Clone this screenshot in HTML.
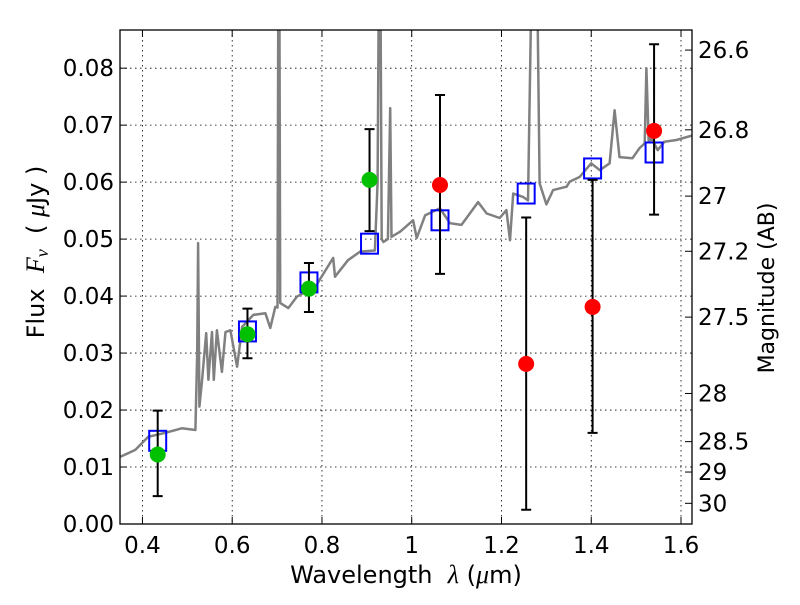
<!DOCTYPE html>
<html><head><meta charset="utf-8"><style>
body{margin:0;background:#fff}
svg text{font-family:"DejaVu Sans","Liberation Sans",sans-serif;fill:#000}
.m{font-family:"Liberation Serif",serif;font-style:italic}
</style></head><body>
<svg id="chart" width="800" height="600" xmlns="http://www.w3.org/2000/svg">
<defs><clipPath id="clip"><rect x="120" y="30" width="572" height="494"/></clipPath></defs>
<g id="grid"></g>
<g id="plot" clip-path="url(#clip)"></g>
<rect x="120" y="30" width="572" height="494" fill="none" stroke="#000" stroke-width="1.3"/>
<g id="axes"></g>
<text x="406" y="583" font-size="24" text-anchor="middle" xml:space="preserve">Wavelength  <tspan class="m" font-size="26">λ</tspan> (<tspan class="m" font-size="26">μ</tspan>m)</text>
<text transform="translate(44,252) rotate(-90)" font-size="24" text-anchor="middle" xml:space="preserve">Flux  <tspan class="m" font-size="26">F</tspan><tspan class="m" font-size="18" dy="4">ν</tspan><tspan dy="-4">  ( </tspan><tspan class="m" font-size="26">μ</tspan>Jy )</text>
<text transform="translate(774,288) rotate(-90)" font-size="22" text-anchor="middle">Magnitude (AB)</text>
</svg>
<script>
const xTicks=[0.4,0.6,0.8,1.0,1.2,1.4,1.6];
const xTickLabels=["0.4","0.6","0.8","1","1.2","1.4","1.6"];
const yTicks=[0,0.01,0.02,0.03,0.04,0.05,0.06,0.07,0.08];
const yTickLabels=["0.00","0.01","0.02","0.03","0.04","0.05","0.06","0.07","0.08"];
const magTicks=[26.6,26.8,27,27.2,27.5,28,28.5,29,30];
const magTickLabels=["26.6","26.8","27","27.2","27.5","28","28.5","29","30"];
const specWave=[0.351,0.384,0.413,0.451,0.488,0.518,0.522,0.524,0.527,0.533,0.542,0.547,0.555,0.559,0.566,0.577,0.585,0.596,0.611,0.622,0.647,0.674,0.685,0.696,0.701,0.703,0.705,0.707,0.725,0.744,0.785,0.825,0.829,0.858,0.885,0.918,0.924,0.927,0.93,0.933,0.937,0.947,0.952,0.955,0.974,1.003,1.011,1.03,1.063,1.085,1.111,1.148,1.167,1.196,1.211,1.219,1.226,1.248,1.259,1.268,1.271,1.276,1.279,1.285,1.300,1.315,1.345,1.352,1.374,1.400,1.419,1.441,1.452,1.463,1.492,1.508,1.519,1.523,1.528,1.534,1.548,1.563,1.590,1.626];
const specFlux=[0.0118,0.0130,0.0153,0.0160,0.0168,0.0165,0.0300,0.0493,0.0206,0.0253,0.0335,0.0253,0.0337,0.0253,0.0340,0.0267,0.0337,0.0340,0.0276,0.0346,0.0367,0.0370,0.0344,0.0381,0.0380,0.1,0.1,0.0388,0.0379,0.0399,0.0416,0.0467,0.0434,0.0463,0.0478,0.0480,0.0600,0.1,0.1,0.0500,0.0495,0.0500,0.0730,0.0504,0.0513,0.0533,0.0502,0.0542,0.0554,0.0528,0.0525,0.0565,0.0545,0.0537,0.0551,0.0498,0.0580,0.0574,0.0568,0.1,0.1,0.1,0.1,0.0598,0.0561,0.0586,0.0592,0.0601,0.0609,0.0633,0.0621,0.0633,0.0726,0.0644,0.0642,0.0660,0.0668,0.0800,0.0670,0.0677,0.0656,0.0671,0.0674,0.0682];
const modelWave=[0.434,0.634,0.771,0.906,1.063,1.255,1.403,1.540];
const modelFlux=[0.0146,0.0338,0.0424,0.0492,0.0533,0.0580,0.0624,0.0652];
const greenWave=[0.434,0.634,0.771,0.906];
const greenFlux=[0.0122,0.0333,0.0413,0.0604];
const greenLo=[0.0049,0.0291,0.0372,0.0514];
const greenHi=[0.0199,0.0378,0.0458,0.0693];
const redWave=[1.063,1.255,1.403,1.540];
const redFlux=[0.0595,0.0281,0.0381,0.0690];
const redLo=[0.0439,0.0025,0.0160,0.0543];
const redHi=[0.0753,0.0538,0.0604,0.0842];

const X0=120,X1=692,Y0=524,Y1=30,xmin=0.35,xmax=1.6245,ymin=0,ymax=0.0867;
const sx=v=>X0+(v-xmin)/(xmax-xmin)*(X1-X0);
const sy=v=>Y0-(v-ymin)/(ymax-ymin)*(Y0-Y1);
const magToFlux=m=>Math.pow(10,(23.9-m)/2.5);
const NS="http://www.w3.org/2000/svg";
function mk(tag,attrs,parent){const e=document.createElementNS(NS,tag);for(const k in attrs)e.setAttribute(k,attrs[k]);parent.appendChild(e);return e;}
const grid=document.getElementById('grid'),plot=document.getElementById('plot'),axes=document.getElementById('axes');

xTicks.forEach((t,i)=>{const x=sx(t);
 const g=mk('line',{x1:x,x2:x,y1:Y1,y2:Y0,stroke:'#000','stroke-width':0.8,'stroke-dasharray':'1.5,3.5'},grid);
 
 
 const a=mk('line',{x1:x,x2:x,y1:Y0,y2:Y0-7,stroke:'#000','stroke-width':1},axes);
 
 
 const b=mk('line',{x1:x,x2:x,y1:Y1,y2:Y1+7,stroke:'#000','stroke-width':1},axes);
 
 
 const l=mk('text',{x:x,y:553,'font-size':23,'text-anchor':'middle'},axes);l.textContent=xTickLabels[i];
 
 
});
yTicks.forEach((t,i)=>{const y=sy(t);
 const g=mk('line',{x1:X0,x2:X1,y1:y,y2:y,stroke:'#000','stroke-width':0.8,'stroke-dasharray':'1.5,3.5'},grid);
 
 
 const a=mk('line',{x1:X0,x2:X0+7,y1:y,y2:y,stroke:'#000','stroke-width':1},axes);
 
 
 const l=mk('text',{x:114,y:y+8,'font-size':23,'text-anchor':'end'},axes);l.textContent=yTickLabels[i];
 
 
});
magTicks.forEach((m,i)=>{const y=sy(magToFlux(m));
 const a=mk('line',{x1:X1,x2:X1-7,y1:y,y2:y,stroke:'#000','stroke-width':1},axes);
 
 
 const l=mk('text',{x:698,y:y+8,'font-size':23},axes);l.textContent=magTickLabels[i];
 
 
});
const pts=specWave.map((w,i)=>sx(w).toFixed(1)+','+sy(specFlux[i]).toFixed(1)).join(' ');
const sp=mk('polyline',{points:pts,fill:'none',stroke:'#808080','stroke-width':2.5,'stroke-linejoin':'round'},plot);


modelWave.forEach((w,i)=>{const x=sx(w),y=sy(modelFlux[i]);
 const r=mk('rect',{x:x-8.5,y:y-10,width:17,height:20,fill:'none',stroke:'#0000ff','stroke-width':2},plot);
 
 
});
function errs(W,F,L,H,color,name){W.forEach((w,i)=>{const x=sx(w);
 const e=mk('path',{d:`M${x},${sy(L[i])}V${sy(H[i])}M${x-5},${sy(L[i])}H${x+5}M${x-5},${sy(H[i])}H${x+5}`,stroke:'#000','stroke-width':2,fill:'none'},plot);
 
 
});W.forEach((w,i)=>{
 const c=mk('circle',{cx:sx(w),cy:sy(F[i]),r:8,fill:color},plot);
 
 
});}
errs(greenWave,greenFlux,greenLo,greenHi,'#00c000','detection');
errs(redWave,redFlux,redLo,redHi,'#ff0000','ir-measurement');
</script>
</body></html>
